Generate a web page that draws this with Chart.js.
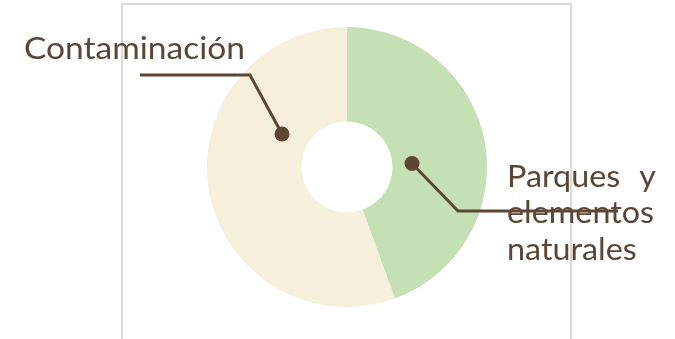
<!DOCTYPE html>
<html><head><meta charset="utf-8">
<script src="https://cdn.jsdelivr.net/npm/chart.js@4"></script>
<style>html,body{margin:0;padding:0;background:#fff;overflow:hidden}#wrap{width:675px;height:339px;position:relative}</style>
</head><body><div id="wrap"><canvas id="c" width="675" height="339"></canvas></div>
<script>
const categories = ["Parques y elementos naturales", "Contaminación"];
const values = [4, 5];
const sliceColors = ['#c5e0b4', '#f6efdc'];
const labelLines = [["Parques  y", "elementos", "naturales"], ["Contaminación"]];

const TEXT = '#5b4635';
const FONT = '400 30px Lato, "DejaVu Sans", sans-serif';

const framePlugin = {
  id: 'frame',
  beforeDatasetsDraw(chart) {
    const ctx = chart.ctx;
    ctx.save();
    ctx.strokeStyle = '#d9d9d9';
    ctx.lineWidth = 2;
    ctx.beginPath();
    ctx.moveTo(122, 360); ctx.lineTo(122, 4); ctx.lineTo(571, 4); ctx.lineTo(571, 360);
    ctx.stroke();
    ctx.restore();
  }
};

function fitText(ctx, str, x, y, targetW) {
  const w = ctx.measureText(str).width;
  const s = targetW / w;
  ctx.save();
  ctx.translate(x, y);
  ctx.scale(s, 1);
  ctx.fillText(str, 0, 0);
  ctx.restore();
  return s;
}

const labelPlugin = {
  id: 'leaders',
  afterDatasetsDraw(chart) {
    const ctx = chart.ctx;
    const arc = chart.getDatasetMeta(0).data[0];
    const cx = arc.x, cy = arc.y;
    ctx.save();
    ctx.fillStyle = TEXT;
    ctx.font = FONT;
    ctx.textBaseline = 'alphabetic';
    ctx.textAlign = 'left';
    fitText(ctx, labelLines[1][0], 24, 58.5, 221);
    const sEl = 147 / ctx.measureText(labelLines[0][1]).width;
    const p1 = labelLines[0][0].split(/\s+/);
    ctx.save(); ctx.translate(507, 187); ctx.scale(sEl, 1); ctx.fillText(p1[0], 0, 0); ctx.restore();
    ctx.save(); ctx.translate(656, 187); ctx.scale(sEl, 1); ctx.textAlign = 'right'; ctx.fillText(p1[1], 0, 0); ctx.restore();
    ctx.save(); ctx.translate(507, 223); ctx.scale(sEl, 1); ctx.fillText(labelLines[0][1], 0, 0); ctx.restore();
    ctx.save(); ctx.translate(507, 259.5); ctx.scale(sEl, 1); ctx.fillText(labelLines[0][2], 0, 0); ctx.restore();

    ctx.strokeStyle = '#5e4632';
    ctx.lineWidth = 3;
    ctx.lineJoin = 'miter';
    ctx.beginPath();
    ctx.moveTo(140, 75); ctx.lineTo(250, 75); ctx.lineTo(cx - 65, cy - 33);
    ctx.stroke();
    ctx.beginPath();
    ctx.moveTo(cx + 65, cy - 3.5); ctx.lineTo(458, 211); ctx.lineTo(618, 211);
    ctx.stroke();
    ctx.fillStyle = '#5e4632';
    ctx.beginPath(); ctx.arc(cx - 65, cy - 33, 7.5, 0, Math.PI * 2); ctx.fill();
    ctx.beginPath(); ctx.arc(cx + 65, cy - 3.5, 7.5, 0, Math.PI * 2); ctx.fill();
    ctx.restore();
  }
};

new Chart(document.getElementById('c'), {
  type: 'doughnut',
  data: {
    labels: categories,
    datasets: [{ data: values, backgroundColor: sliceColors, borderWidth: 0, hoverOffset: 0 }]
  },
  options: {
    responsive: false,
    devicePixelRatio: 1,
    animation: false,
    cutout: '32.5%',
    layout: { padding: { left: 19, right: 0, top: 27, bottom: 32 } },
    plugins: { legend: { display: false }, tooltip: { enabled: false } }
  },
  plugins: [framePlugin, labelPlugin]
});
</script>
</body></html>
